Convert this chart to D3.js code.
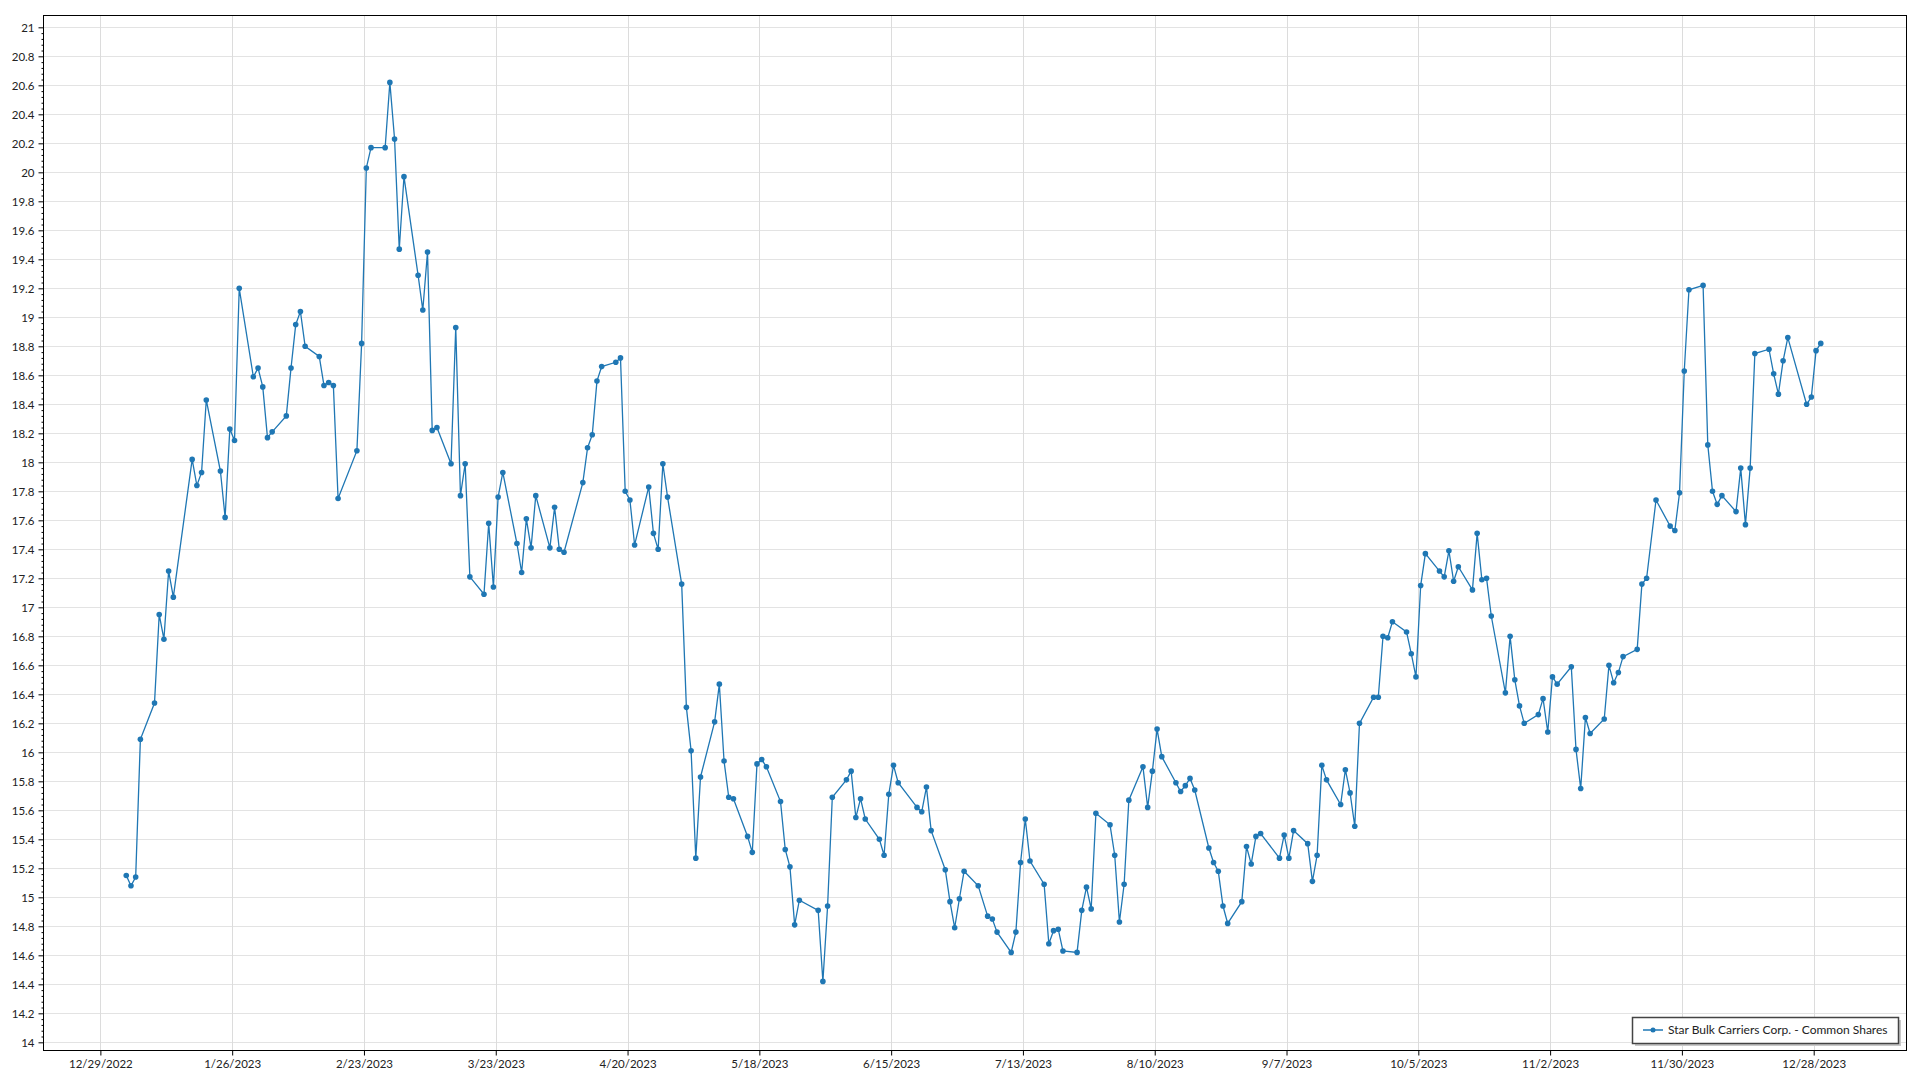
<!DOCTYPE html>
<html>
<head>
<meta charset="utf-8">
<script src="https://cdn.jsdelivr.net/npm/d3@7"></script>
<style>
  body { margin: 0; background: #fff; }
  svg { display: block; }
  text { font-family: Lato, "Noto Sans", sans-serif; }
</style>
</head>
<body>
<svg id="chart" width="1920" height="1080"></svg>
<script>
const seriesName = "Star Bulk Carriers Corp. - Common Shares";

const tradeDates = [
  "2023-01-03","2023-01-04","2023-01-05","2023-01-06","2023-01-09","2023-01-10","2023-01-11","2023-01-12","2023-01-13","2023-01-17",
  "2023-01-18","2023-01-19","2023-01-20","2023-01-23","2023-01-24","2023-01-25","2023-01-26","2023-01-27","2023-01-30","2023-01-31",
  "2023-02-01","2023-02-02","2023-02-03","2023-02-06","2023-02-07","2023-02-08","2023-02-09","2023-02-10","2023-02-13","2023-02-14",
  "2023-02-15","2023-02-16","2023-02-17","2023-02-21","2023-02-22","2023-02-23","2023-02-24","2023-02-27","2023-02-28",
  "2023-03-01","2023-03-02","2023-03-03","2023-03-06","2023-03-07","2023-03-08","2023-03-09","2023-03-10","2023-03-13","2023-03-14",
  "2023-03-15","2023-03-16","2023-03-17","2023-03-20","2023-03-21","2023-03-22","2023-03-23","2023-03-24","2023-03-27","2023-03-28",
  "2023-03-29","2023-03-30","2023-03-31",
  "2023-04-03","2023-04-04","2023-04-05","2023-04-06","2023-04-10","2023-04-11","2023-04-12","2023-04-13","2023-04-14","2023-04-17",
  "2023-04-18","2023-04-19","2023-04-20","2023-04-21","2023-04-24","2023-04-25","2023-04-26","2023-04-27","2023-04-28",
  "2023-05-01","2023-05-02","2023-05-03","2023-05-04","2023-05-05","2023-05-08","2023-05-09","2023-05-10","2023-05-11","2023-05-12",
  "2023-05-15","2023-05-16","2023-05-17","2023-05-18","2023-05-19","2023-05-22","2023-05-23","2023-05-24","2023-05-25","2023-05-26",
  "2023-05-30","2023-05-31",
  "2023-06-01","2023-06-02","2023-06-05","2023-06-06","2023-06-07","2023-06-08","2023-06-09","2023-06-12","2023-06-13","2023-06-14",
  "2023-06-15","2023-06-16","2023-06-20","2023-06-21","2023-06-22","2023-06-23","2023-06-26","2023-06-27","2023-06-28","2023-06-29",
  "2023-06-30",
  "2023-07-03","2023-07-05","2023-07-06","2023-07-07","2023-07-10","2023-07-11","2023-07-12","2023-07-13","2023-07-14","2023-07-17",
  "2023-07-18","2023-07-19","2023-07-20","2023-07-21","2023-07-24","2023-07-25","2023-07-26","2023-07-27","2023-07-28","2023-07-31",
  "2023-08-01","2023-08-02","2023-08-03","2023-08-04","2023-08-07","2023-08-08","2023-08-09","2023-08-10","2023-08-11","2023-08-14",
  "2023-08-15","2023-08-16","2023-08-17","2023-08-18","2023-08-21","2023-08-22","2023-08-23","2023-08-24","2023-08-25","2023-08-28",
  "2023-08-29","2023-08-30","2023-08-31",
  "2023-09-01","2023-09-05","2023-09-06","2023-09-07","2023-09-08","2023-09-11","2023-09-12","2023-09-13","2023-09-14","2023-09-15",
  "2023-09-18","2023-09-19","2023-09-20","2023-09-21","2023-09-22","2023-09-25","2023-09-26","2023-09-27","2023-09-28","2023-09-29",
  "2023-10-02","2023-10-03","2023-10-04","2023-10-05","2023-10-06","2023-10-09","2023-10-10","2023-10-11","2023-10-12","2023-10-13",
  "2023-10-16","2023-10-17","2023-10-18","2023-10-19","2023-10-20","2023-10-23","2023-10-24","2023-10-25","2023-10-26","2023-10-27",
  "2023-10-30","2023-10-31",
  "2023-11-01","2023-11-02","2023-11-03","2023-11-06","2023-11-07","2023-11-08","2023-11-09","2023-11-10","2023-11-13","2023-11-14",
  "2023-11-15","2023-11-16","2023-11-17","2023-11-20","2023-11-21","2023-11-22","2023-11-24","2023-11-27","2023-11-28","2023-11-29",
  "2023-11-30",
  "2023-12-01","2023-12-04","2023-12-05","2023-12-06","2023-12-07","2023-12-08","2023-12-11","2023-12-12","2023-12-13","2023-12-14",
  "2023-12-15","2023-12-18","2023-12-19","2023-12-20","2023-12-21","2023-12-22","2023-12-26","2023-12-27","2023-12-28","2023-12-29"
];

const closePrices = [
  15.15,15.08,15.14,16.09,16.34,16.95,16.78,17.25,17.07,18.02,
  17.84,17.93,18.43,17.94,17.62,18.23,18.15,19.20,18.59,18.65,
  18.52,18.17,18.21,18.32,18.65,18.95,19.04,18.80,18.73,18.53,
  18.55,18.53,17.75,18.08,18.82,20.03,20.17,20.17,20.62,
  20.23,19.47,19.97,19.29,19.05,19.45,18.22,18.24,17.99,18.93,
  17.77,17.99,17.21,17.09,17.58,17.14,17.76,17.93,17.44,17.24,
  17.61,17.41,17.77,
  17.41,17.69,17.40,17.38,17.86,18.10,18.19,18.56,18.66,18.69,
  18.72,17.80,17.74,17.43,17.83,17.51,17.40,17.99,17.76,
  17.16,16.31,16.01,15.27,15.83,16.21,16.47,15.94,15.69,15.68,
  15.42,15.31,15.92,15.95,15.90,15.66,15.33,15.21,14.81,14.98,
  14.91,14.42,
  14.94,15.69,15.81,15.87,15.55,15.68,15.54,15.40,15.29,15.71,
  15.91,15.79,15.62,15.59,15.76,15.46,15.19,14.97,14.79,14.99,
  15.18,
  15.08,14.87,14.85,14.76,14.62,14.76,15.24,15.54,15.25,15.09,
  14.68,14.77,14.78,14.63,14.62,14.91,15.07,14.92,15.58,15.50,
  15.29,14.83,15.09,15.67,15.90,15.62,15.87,16.16,15.97,15.79,
  15.73,15.77,15.82,15.74,15.34,15.24,15.18,14.94,14.82,14.97,
  15.35,15.23,15.42,
  15.44,15.27,15.43,15.27,15.46,15.37,15.11,15.29,15.91,15.81,
  15.64,15.88,15.72,15.49,16.20,16.38,16.38,16.80,16.79,16.90,
  16.83,16.68,16.52,17.15,17.37,17.25,17.21,17.39,17.18,17.28,
  17.12,17.51,17.19,17.20,16.94,16.41,16.80,16.50,16.32,16.20,
  16.26,16.37,
  16.14,16.52,16.47,16.59,16.02,15.75,16.24,16.13,16.23,16.60,
  16.48,16.55,16.66,16.71,17.16,17.20,17.74,17.56,17.53,17.79,
  18.63,
  19.19,19.22,18.12,17.80,17.71,17.77,17.66,17.96,17.57,17.96,
  18.75,18.78,18.61,18.47,18.70,18.86,18.40,18.45,18.77,18.82
];

const xTickDates = [
  "2022-12-29","2023-01-26","2023-02-23","2023-03-23","2023-04-20","2023-05-18","2023-06-15",
  "2023-07-13","2023-08-10","2023-09-07","2023-10-05","2023-11-02","2023-11-30","2023-12-28"
];

const yTickLabels = [
  "14","14.2","14.4","14.6","14.8","15","15.2","15.4","15.6","15.8","16","16.2","16.4","16.6","16.8",
  "17","17.2","17.4","17.6","17.8","18","18.2","18.4","18.6","18.8","19","19.2","19.4","19.6","19.8",
  "20","20.2","20.4","20.6","20.8","21"
];

const parse = d3.timeParse("%Y-%m-%d");
const data = tradeDates.map((d, i) => ({ date: d3.timeHour.offset(parse(d), 12), v: closePrices[i] }));
const xTicks = xTickDates.map(parse);
const yTicks = yTickLabels.map(Number);

const W = 1920, H = 1080;
const plot = { left: 43, right: 1906, top: 15, bottom: 1050 };
const color = "#1f77b4";
const FONT = 'Lato, "Noto Sans", sans-serif';

const x = d3.scaleTime()
  .domain([new Date(2022, 11, 16, 19, 26), new Date(2024, 0, 16, 14, 38)])
  .range([plot.left, plot.right]);
const y = d3.scaleLinear()
  .domain([13.947, 21.085])
  .range([plot.bottom, plot.top]);

const svg = d3.select("#chart");
svg.append("rect").attr("width", W).attr("height", H).attr("fill", "#fff");

// grid
const grid = svg.append("g");
grid.selectAll("line.h").data(yTicks).join("line")
  .attr("x1", plot.left).attr("x2", plot.right)
  .attr("y1", d => Math.round(y(d)) + 0.5).attr("y2", d => Math.round(y(d)) + 0.5)
  .attr("stroke", "#e3e3e3").attr("stroke-width", 1);
grid.selectAll("line.v").data(xTicks).join("line")
  .attr("y1", plot.top).attr("y2", plot.bottom)
  .attr("x1", d => Math.round(x(d)) + 0.5).attr("x2", d => Math.round(x(d)) + 0.5)
  .attr("stroke", "#dcdcdc").attr("stroke-width", 1);

// axes
const fmtY = d => yTickLabels[yTicks.indexOf(d)];
const yAxis = d3.axisLeft(y).tickValues(yTicks).tickSize(5).tickPadding(4).tickFormat(fmtY);
const gy = svg.append("g").attr("transform", `translate(${plot.left + 0.5},0)`).call(yAxis);
gy.select(".domain").remove();

const minorVals = [];
yTicks.slice(0, -1).forEach(t => { for (let k = 1; k < 5; k++) minorVals.push(+(t + k * 0.04).toFixed(2)); });
const gyMinor = svg.append("g").attr("transform", `translate(${plot.left + 0.5},0)`)
  .call(d3.axisLeft(y).tickValues(minorVals).tickSize(2).tickFormat(""));
gyMinor.select(".domain").remove();

const xAxis = d3.axisBottom(x).tickValues(xTicks).tickSize(5).tickPadding(4).tickFormat(d3.timeFormat("%-m/%-d/%Y"));
const gx = svg.append("g").attr("transform", `translate(0,${plot.bottom + 0.5})`).call(xAxis);
gx.select(".domain").remove();

[gy, gx].forEach(g => {
  g.selectAll("text").attr("font-size", 11.5).attr("fill", "#222").style("font-family", FONT);
  g.selectAll("line").attr("stroke", "#000");
});
gyMinor.selectAll("line").attr("stroke", "#000");

// plot border
svg.append("rect")
  .attr("x", plot.left + 0.5).attr("y", plot.top + 0.5)
  .attr("width", plot.right - plot.left).attr("height", plot.bottom - plot.top)
  .attr("fill", "none").attr("stroke", "#000").attr("stroke-width", 1);

// series
const line = d3.line().x(d => x(d.date)).y(d => y(d.v));
svg.append("path").datum(data)
  .attr("d", line).attr("fill", "none").attr("stroke", color).attr("stroke-width", 1.3);
svg.append("g").selectAll("circle").data(data).join("circle")
  .attr("cx", d => x(d.date)).attr("cy", d => y(d.v)).attr("r", 2.8).attr("fill", color);

// legend
const lg = svg.append("g");
const lgBox = { x: 1632, y: 1017, w: 266, h: 26 };
lg.append("rect").attr("x", lgBox.x + 3).attr("y", lgBox.y + 3).attr("width", lgBox.w).attr("height", lgBox.h).attr("fill", "#c8c8c8");
lg.append("rect").attr("x", lgBox.x + 0.5).attr("y", lgBox.y + 0.5).attr("width", lgBox.w).attr("height", lgBox.h)
  .attr("fill", "#fff").attr("stroke", "#444").attr("stroke-width", 1.5);
const ly = lgBox.y + lgBox.h / 2;
lg.append("line").attr("x1", lgBox.x + 11).attr("x2", lgBox.x + 31).attr("y1", ly).attr("y2", ly)
  .attr("stroke", color).attr("stroke-width", 1.5);
lg.append("circle").attr("cx", lgBox.x + 21).attr("cy", ly).attr("r", 2.5).attr("fill", color);
lg.append("text").attr("x", lgBox.x + 36).attr("y", ly).attr("dy", "0.35em")
  .attr("font-size", 12).attr("fill", "#222").style("font-family", FONT).text(seriesName);
</script>
</body>
</html>
